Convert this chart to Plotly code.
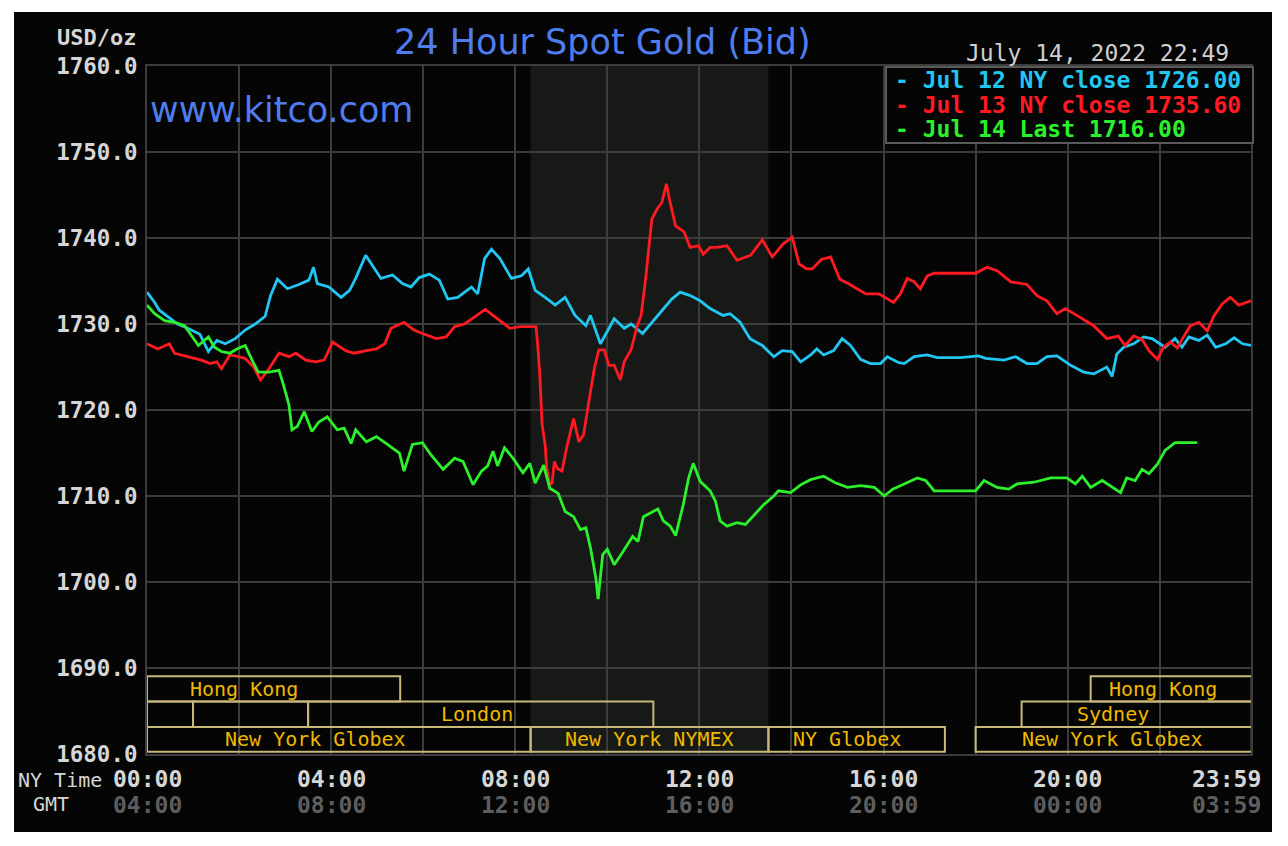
import plotly.graph_objects as go

# ---------------- data (minutes after 00:00 NY time, USD/oz) ----------------
jul12_t = [0, 10, 16, 27, 40, 53, 69, 80, 91, 102, 115, 128, 141, 154, 161, 170, 183, 198, 211, 217,
           222, 237, 253, 264, 272, 285, 294, 305, 320, 333, 344, 355, 368, 381, 392, 405, 414, 423, 431, 440,
           449, 460, 475, 488, 497, 506, 519, 532, 545, 558, 572, 578, 591, 600, 609, 622, 631, 646, 660, 673,
           684, 695, 708, 721, 734, 751, 760, 773, 786, 802, 817, 828, 841, 852, 865, 873, 882, 895, 906, 917,
           930, 943, 956, 965, 980, 987, 1000, 1017, 1030, 1060, 1084, 1093, 1117, 1132, 1147, 1160, 1173, 1186, 1204, 1221,
           1234, 1251, 1258, 1264, 1273, 1286, 1299, 1310, 1321, 1327, 1340, 1349, 1358, 1371, 1382, 1393, 1406, 1417, 1428, 1439]
jul12_v = [1733.7, 1732.5, 1731.6, 1730.9, 1730.0, 1729.5, 1728.8, 1726.8, 1728.1, 1727.7, 1728.3, 1729.3, 1730.0, 1730.9, 1733.3, 1735.2, 1734.1, 1734.6, 1735.1, 1736.6,
           1734.7, 1734.3, 1733.1, 1733.9, 1735.3, 1738.0, 1736.8, 1735.3, 1735.7, 1734.7, 1734.3, 1735.4, 1735.8, 1735.1, 1732.9, 1733.1, 1733.7, 1734.3, 1733.5, 1737.6,
           1738.7, 1737.6, 1735.3, 1735.6, 1736.4, 1733.9, 1733.1, 1732.2, 1733.1, 1731.0, 1729.8, 1731.0, 1727.7, 1729.1, 1730.6, 1729.5, 1730.0, 1728.9, 1730.4, 1731.8,
           1732.9, 1733.7, 1733.3, 1732.7, 1731.8, 1731.0, 1731.2, 1730.2, 1728.3, 1727.5, 1726.2, 1726.9, 1726.8, 1725.6, 1726.4, 1727.1, 1726.4, 1726.9, 1728.3, 1727.5,
           1725.9, 1725.4, 1725.4, 1726.2, 1725.5, 1725.4, 1726.2, 1726.4, 1726.1, 1726.1, 1726.3, 1726.0, 1725.8, 1726.2, 1725.4, 1725.4, 1726.2, 1726.3, 1725.2, 1724.4,
           1724.2, 1725.0, 1723.9, 1726.5, 1727.3, 1727.7, 1728.5, 1728.3, 1727.7, 1727.3, 1728.3, 1727.3, 1728.5, 1728.1, 1728.7, 1727.3, 1727.7, 1728.4, 1727.7, 1727.5]

jul13_t = [0, 14, 29, 36, 53, 71, 82, 91, 97, 108, 119, 128, 139, 148, 159, 172, 185, 194, 207, 220,
           231, 242, 259, 270, 286, 299, 310, 318, 335, 348, 359, 377, 390, 401, 414, 427, 441, 451, 462, 473,
           486, 499, 507, 509, 512, 515, 519, 521, 525, 528, 531, 535, 541, 547, 556, 563, 569, 576, 583, 589,
           596, 602, 609, 617, 622, 631, 639, 644, 650, 658, 665, 671, 677, 681, 689, 700, 708, 719, 725, 734,
           743, 756, 769, 787, 802, 815, 829, 841, 850, 860, 867, 879, 891, 903, 914, 937, 954, 973, 982, 991,
           1000, 1008, 1017, 1026, 1080, 1095, 1108, 1126, 1147, 1160, 1173, 1186, 1197, 1212, 1234, 1251, 1266, 1275, 1286, 1297,
           1306, 1317, 1325, 1334, 1343, 1351, 1360, 1371, 1382, 1391, 1402, 1412, 1423, 1439]
jul13_v = [1727.7, 1727.1, 1727.7, 1726.6, 1726.2, 1725.8, 1725.4, 1725.6, 1724.8, 1726.4, 1726.2, 1726.0, 1725.0, 1723.5, 1724.8, 1726.6, 1726.2, 1726.6, 1725.8, 1725.6,
           1725.8, 1727.9, 1726.9, 1726.6, 1726.9, 1727.1, 1727.7, 1729.5, 1730.2, 1729.3, 1728.9, 1728.3, 1728.5, 1729.7, 1730.0, 1730.8, 1731.7, 1731.0, 1730.2, 1729.5,
           1729.7, 1729.7, 1729.7, 1727.9, 1724.1, 1718.3, 1715.9, 1713.2, 1711.3, 1711.5, 1714.0, 1713.2, 1712.9, 1715.6, 1719.0, 1716.3, 1717.1, 1721.0, 1724.8, 1727.0,
           1727.0, 1725.2, 1725.2, 1723.5, 1725.6, 1727.0, 1729.8, 1731.0, 1735.3, 1742.2, 1743.4, 1744.1, 1746.3, 1744.5, 1741.4, 1740.7, 1738.9, 1739.1, 1738.1, 1738.9,
           1738.9, 1739.1, 1737.4, 1738.0, 1739.8, 1737.8, 1739.3, 1740.1, 1737.0, 1736.4, 1736.4, 1737.5, 1737.8, 1735.2, 1734.7, 1733.5, 1733.5, 1732.5, 1733.5, 1735.3,
           1734.9, 1734.1, 1735.6, 1735.9, 1735.9, 1736.6, 1736.2, 1734.9, 1734.6, 1733.3, 1732.7, 1731.2, 1731.8, 1731.0, 1729.8, 1728.3, 1728.6, 1727.5, 1728.6, 1728.2,
           1726.9, 1725.9, 1727.3, 1727.9, 1727.2, 1728.5, 1729.8, 1730.2, 1729.2, 1731.0, 1732.4, 1733.1, 1732.2, 1732.7]

jul14_t = [0, 10, 23, 36, 49, 58, 67, 80, 88, 97, 108, 117, 128, 137, 145, 159, 172, 178, 185, 189,
           196, 205, 215, 224, 235, 248, 257, 266, 272, 286, 299, 312, 320, 329, 335, 346, 359, 370, 386, 401,
           412, 425, 436, 444, 451, 457, 466, 477, 490, 499, 506, 517, 525, 536, 545, 556, 565, 572, 578, 585,
           588, 594, 600, 609, 618, 627, 633, 640, 647, 658, 666, 673, 682, 689, 699, 706, 712, 721, 734, 741,
           747, 756, 769, 780, 791, 804, 817, 823, 839, 852, 865, 882, 898, 913, 930, 948, 961, 972, 987, 1004,
           1015, 1026, 1047, 1080, 1091, 1108, 1123, 1134, 1156, 1178, 1199, 1210, 1219, 1230, 1245, 1256, 1269, 1277, 1288, 1297,
           1306, 1317, 1327, 1340, 1369]
jul14_v = [1732.2, 1731.2, 1730.4, 1730.2, 1729.8, 1728.7, 1727.5, 1728.5, 1727.3, 1726.8, 1726.6, 1727.1, 1727.5, 1725.8, 1724.4, 1724.4, 1724.6, 1722.9, 1720.6, 1717.7,
           1718.1, 1719.8, 1717.5, 1718.6, 1719.2, 1717.7, 1717.9, 1716.1, 1717.7, 1716.3, 1716.9, 1716.1, 1715.6, 1715.0, 1712.9, 1716.0, 1716.2, 1714.8, 1713.1, 1714.4,
           1714.0, 1711.3, 1712.9, 1713.5, 1715.2, 1713.5, 1715.6, 1714.4, 1712.7, 1713.8, 1711.5, 1713.6, 1710.9, 1710.3, 1708.2, 1707.6, 1706.1, 1706.3, 1704.0, 1700.5,
           1698.0, 1703.2, 1703.8, 1702.0, 1703.2, 1704.4, 1705.3, 1704.7, 1707.6, 1708.1, 1708.5, 1707.1, 1706.5, 1705.4, 1709.0, 1712.1, 1713.8, 1711.7, 1710.6, 1709.4,
           1707.1, 1706.5, 1706.9, 1706.7, 1707.7, 1709.0, 1710.0, 1710.6, 1710.4, 1711.3, 1711.9, 1712.3, 1711.5, 1711.0, 1711.2, 1711.0, 1710.0, 1710.8, 1711.4, 1712.1,
           1711.8, 1710.6, 1710.6, 1710.6, 1711.8, 1711.0, 1710.8, 1711.4, 1711.6, 1712.1, 1712.1, 1711.4, 1712.3, 1711.0, 1711.8, 1711.2, 1710.4, 1712.1, 1711.8, 1713.1,
           1712.6, 1713.7, 1715.3, 1716.2, 1716.2]

legend_labels = ["Jul 12 NY close 1726.00", "Jul 13 NY close 1735.60", "Jul 14 Last 1716.00"]

ny_ticks = ["00:00", "04:00", "08:00", "12:00", "16:00", "20:00", "23:59"]
gmt_ticks = ["04:00", "08:00", "12:00", "16:00", "20:00", "00:00", "03:59"]
tick_minutes = [0, 240, 480, 720, 960, 1200, 1439]

# market sessions: (label, row, start_min, end_min, label_center_min)
markets = [
    ("Hong Kong", 3, 0, 330, 126),
    ("", 2, 0, 60, None),
    ("", 2, 60, 210, None),
    ("London", 2, 210, 660, 430),
    ("New York Globex", 1, 0, 500, 219),
    ("New York NYMEX", 1, 500, 810, 655),
    ("NY Globex", 1, 810, 1040, 912),
    ("New York Globex", 1, 1080, 1440, 1259),
    ("Sydney", 2, 1140, 1440, 1259),
    ("Hong Kong", 3, 1230, 1440, 1324),
]
row_edges = {1: (1680.25, 1683.15), 2: (1683.15, 1686.1), 3: (1686.1, 1689.05)}
nymex_window = (500, 810)

# ---------------- styling ----------------
CYAN, RED, GREEN = "#22c6f2", "#ff1a22", "#2cf02c"
GRID = "#3c3c3c"
MONO = "DejaVu Sans Mono"
LBL = "#d6d6d6"
BOXLINE = "#c8b87a"
GOLD = "#f0b800"

W, H = 1288, 846
L, R, T, B = 147, 37, 66, 92
PW, PH = W - L - R, H - T - B
XMAX = 1439


def px(xp):
    return (xp - L) / PW


def py(yp):
    return (H - B - yp) / PH


fig = go.Figure()
for t, v, c in [(jul12_t, jul12_v, CYAN), (jul13_t, jul13_v, RED), (jul14_t, jul14_v, GREEN)]:
    fig.add_trace(go.Scatter(x=t, y=v, mode="lines", line=dict(color=c, width=2.8),
                             showlegend=False, hoverinfo="skip"))

shapes = []
# black chart frame
shapes.append(dict(type="rect", xref="paper", yref="paper", x0=px(14), x1=px(1272), y0=py(832), y1=py(12),
                   fillcolor="#050505", line=dict(width=0), layer="below"))
# NYMEX shading
shapes.append(dict(type="rect", xref="x", yref="y", x0=nymex_window[0], x1=nymex_window[1], y0=1680, y1=1760,
                   fillcolor="#161916", line=dict(width=0), layer="below"))
# legend box
shapes.append(dict(type="rect", xref="paper", yref="paper", x0=px(886), x1=px(1253), y0=py(143), y1=py(67),
                   fillcolor="#050505", line=dict(color="#5a5a5a", width=2), layer="above"))

annotations = []
for name, row, s, e, c in markets:
    y0, y1 = row_edges[row]
    shapes.append(dict(type="rect", xref="x", yref="y", x0=s, x1=e, y0=y0, y1=y1,
                       line=dict(color=BOXLINE, width=2), fillcolor="rgba(0,0,0,0)", layer="above"))
    if name:
        annotations.append(dict(x=c, y=(y0 + y1) / 2, xref="x", yref="y", text=name, showarrow=False,
                                font=dict(family=MONO, size=20, color=GOLD), xanchor="center", yanchor="middle"))

# x tick labels (NY time and GMT), positioned in paper space from the minute scale
for m, a, b in zip(tick_minutes, ny_ticks, gmt_ticks):
    xx = m / XMAX
    anchor = "center"
    if m == XMAX:
        anchor = "right"
        xx = px(1263)
    annotations.append(dict(x=xx, y=py(779), xref="paper", yref="paper", text=a, showarrow=False,
                            xanchor=anchor, yanchor="middle",
                            font=dict(family=MONO, size=23, color=LBL, weight="bold")))
    annotations.append(dict(x=xx, y=py(805), xref="paper", yref="paper", text=b, showarrow=False,
                            xanchor=anchor, yanchor="middle",
                            font=dict(family=MONO, size=23, color="#5e5e5e", weight="bold")))

annotations.append(dict(x=px(104), y=py(780), xref="paper", yref="paper", text="NY Time", showarrow=False,
                        xanchor="right", yanchor="middle", font=dict(family=MONO, size=20, color=LBL)))
annotations.append(dict(x=px(71), y=py(804), xref="paper", yref="paper", text="GMT", showarrow=False,
                        xanchor="right", yanchor="middle", font=dict(family=MONO, size=20, color=LBL)))
annotations.append(dict(x=px(138), y=py(38), xref="paper", yref="paper", text="USD/oz", showarrow=False,
                        xanchor="right", yanchor="middle",
                        font=dict(family=MONO, size=22, color=LBL, weight="bold")))
# title
annotations.append(dict(x=px(602), y=py(42), xref="paper", yref="paper", text="24 Hour Spot Gold (Bid)",
                        showarrow=False, xanchor="center", yanchor="middle",
                        font=dict(family="DejaVu Sans", size=35, color="#4f7df0")))
annotations.append(dict(x=px(148), y=py(110), xref="paper", yref="paper", text="www.kitco.com",
                        showarrow=False, xanchor="left", yanchor="middle",
                        font=dict(family="DejaVu Sans", size=35, color="#4f7df0")))
annotations.append(dict(x=px(1231), y=py(53), xref="paper", yref="paper", text="July 14, 2022 22:49",
                        showarrow=False, xanchor="right", yanchor="middle",
                        font=dict(family=MONO, size=23, color="#d0d0d0")))
# legend rows
for i, (lab, col) in enumerate(zip(legend_labels, [CYAN, RED, GREEN])):
    annotations.append(dict(x=px(893), y=py(80 + 24.5 * i), xref="paper", yref="paper",
                            text="- " + lab, showarrow=False, xanchor="left", yanchor="middle",
                            font=dict(family=MONO, size=23, color=col, weight="bold")))

fig.update_layout(
    width=W, height=H, autosize=False,
    margin=dict(l=L, r=R, t=T, b=B, pad=0),
    paper_bgcolor="white", plot_bgcolor="rgba(0,0,0,0)",
    showlegend=False,
    shapes=shapes, annotations=annotations,
    xaxis=dict(range=[0, XMAX], tickvals=list(range(0, 1440, 120)), showticklabels=False, ticks="",
               showgrid=True, gridcolor=GRID, gridwidth=2, zeroline=False,
               showline=True, mirror=True, linecolor=GRID, linewidth=2, fixedrange=True),
    yaxis=dict(range=[1680, 1760], dtick=10, tick0=1680, tickformat=".1f", ticks="",
               ticklabelstandoff=3,
               tickfont=dict(family=MONO, size=22.5, color=LBL, weight="bold"),
               showgrid=True, gridcolor=GRID, gridwidth=2, zeroline=False,
               showline=True, mirror=True, linecolor=GRID, linewidth=2, fixedrange=True),
)

fig.write_html("out.html")
